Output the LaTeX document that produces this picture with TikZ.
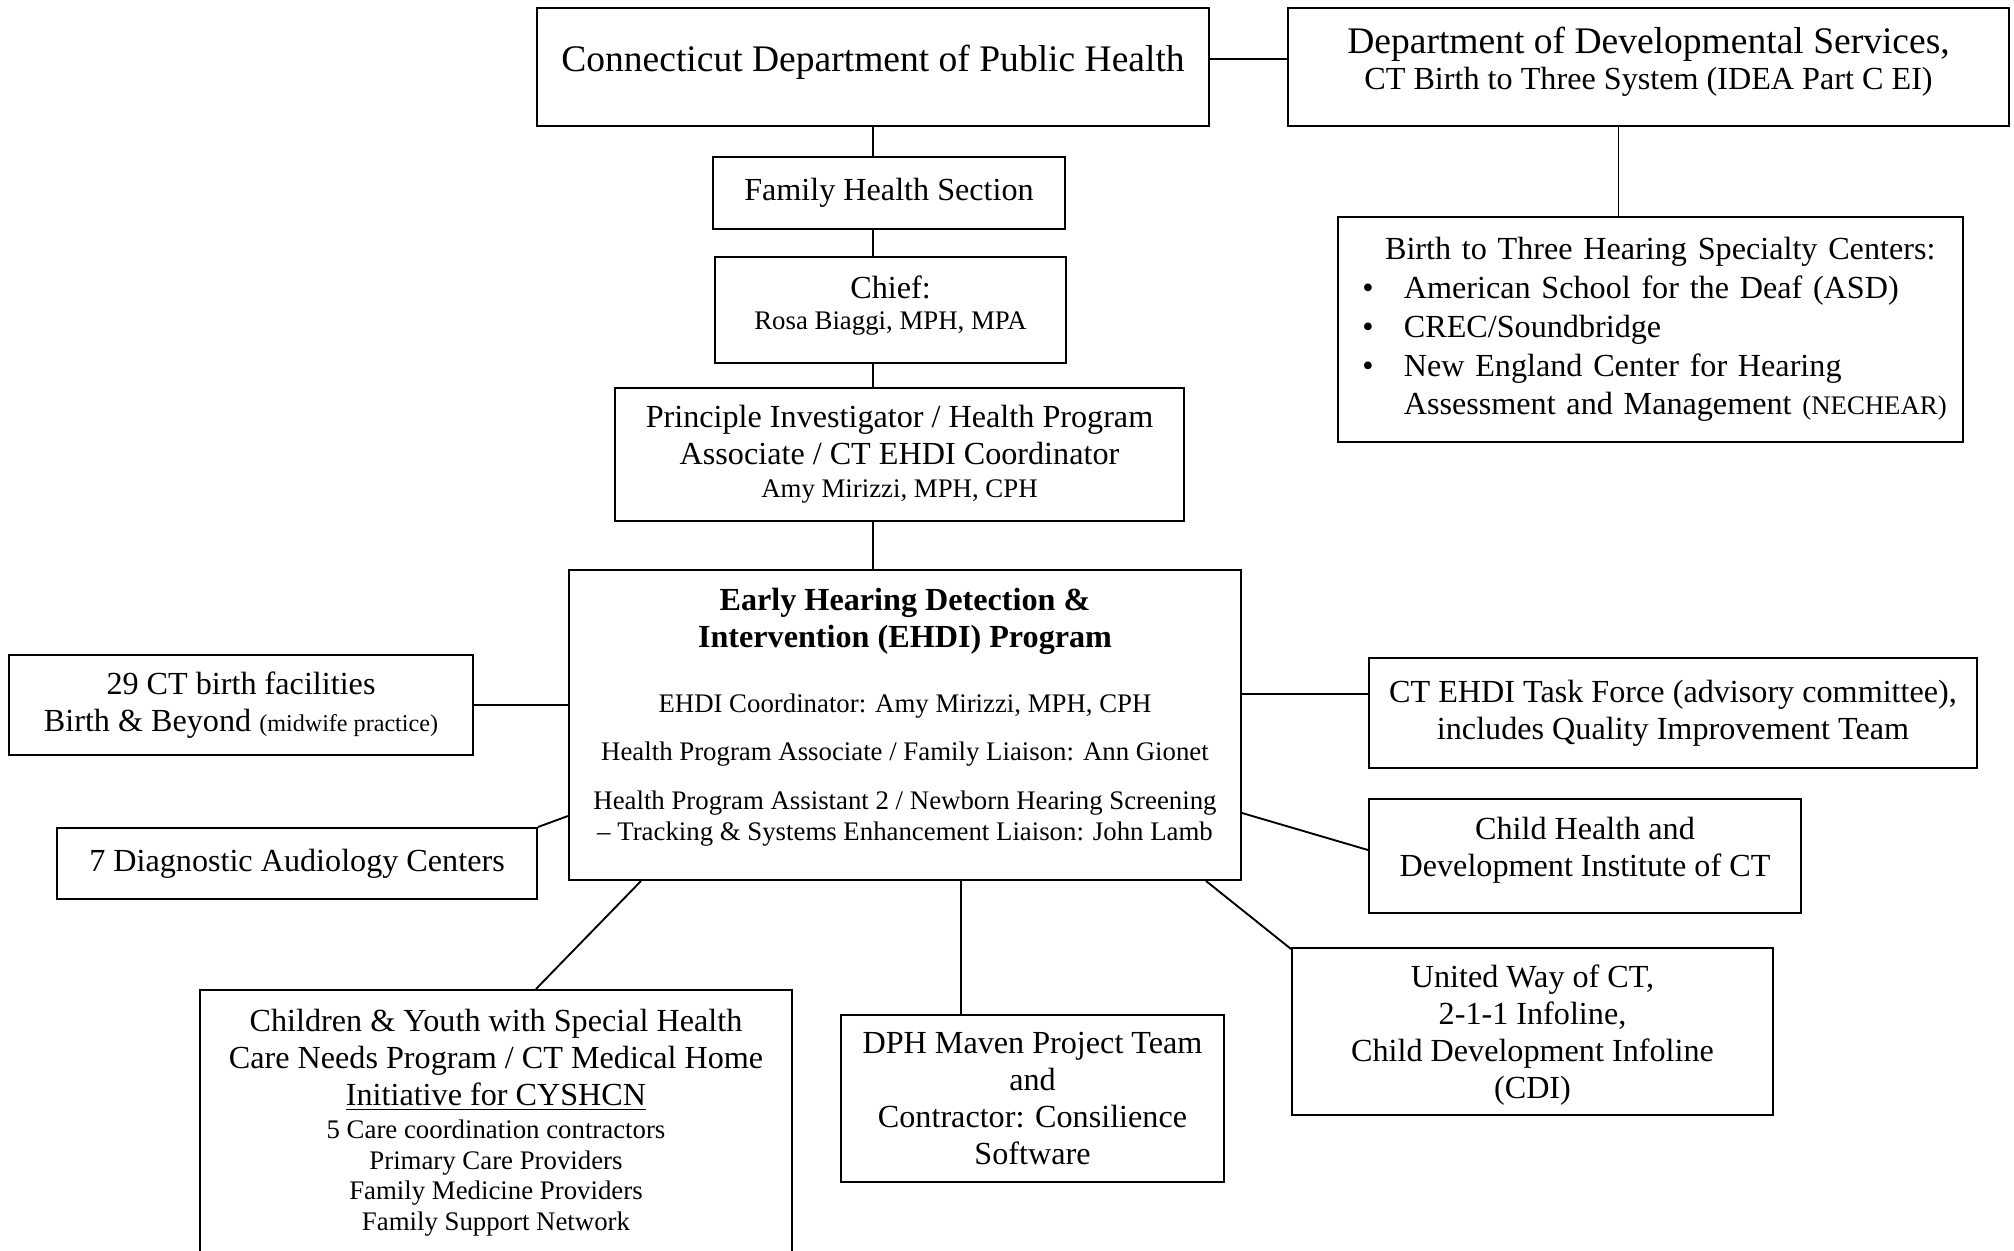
\documentclass[tikz,border=0pt]{standalone}
\usepackage{fontspec}
\setmainfont{Liberation Serif}
\usetikzlibrary{calc}
\newcommand{\sizeten}{\fontsize{10}{11.6}\selectfont}
\newcommand{\sizenine}{\fontsize{9}{10.5}\selectfont}
\newcommand{\sizefourteen}{\fontsize{14}{16.5}\selectfont}
% struts that move a box text up (depth) or down (height)
\newcommand{\pushup}[1]{\rule[-#1]{0pt}{0pt}}
\newcommand{\pushdown}[1]{\rule{0pt}{#1}}
\tikzset{
  box/.style={draw, line width=0.75pt, inner sep=0pt, align=center, font=\fontsize{12}{13.8}\selectfont},
  boxsize/.style 2 args={minimum width=#1*0.373pt, minimum height=#2*0.373pt},
  link/.style={line width=0.7pt},
}
\begin{document}
\begin{tikzpicture}[x=0.373pt, y=-0.373pt]
  \useasboundingbox (0,0) rectangle (2014,1251);
  \clip (0,0) rectangle (2014,1251);

  % Drawing department boxes
  \node[box, boxsize={672}{118}] (cdph) at (873,67) {\sizefourteen Connecticut Department of Public Health\pushup{6.5pt}};%
  \node[box, boxsize={721}{118}] (dds) at (1648.5,67) {{\sizefourteen Department of Developmental Services,}\\ CT Birth to Three System (IDEA Part C EI)\pushup{6.5pt}};%

  % Drawing chain of command
  \node[box, boxsize={352}{72}] (fhs) at (889,193) {Family Health Section};%
  \node[box, boxsize={351}{106}] (chief) at (890.5,310) {Chief:\\[-2.1pt] {\sizeten Rosa Biaggi, MPH, MPA}\pushup{5.6pt}};%
  \node[box, boxsize={569}{133}] (pi) at (899.5,454.5) {Principle Investigator / Health Program\\ Associate / CT EHDI Coordinator\\[-1.6pt] {\sizeten Amy Mirizzi, MPH, CPH}};%

  % Drawing specialty centers
  \node[box, align=left, text width=215pt, inner xsep=9pt, boxsize={625}{225}, font=\fontsize{12}{14.5}\selectfont] (b23) at (1650.5,329.5) {%
    \hspace*{8.5pt}Birth to Three Hearing Specialty Centers:\\
    \makebox[15.5pt][l]{\textbullet}American School for the Deaf (ASD)\\
    \makebox[15.5pt][l]{\textbullet}CREC/Soundbridge\\
    \makebox[15.5pt][l]{\textbullet}New England Center for Hearing\\
    \mbox{\hspace*{15.5pt}Assessment and Management {\sizeten(NECHEAR)}}};%

  % Drawing EHDI program
  \node[box, boxsize={672}{310}] (ehdi) at (905,725) {\textbf{Early Hearing Detection \&}\\ \textbf{Intervention (EHDI) Program}\\[10.5pt]
    {\sizeten EHDI Coordinator: Amy Mirizzi, MPH, CPH}\\[3.9pt]
    {\sizeten Health Program Associate / Family Liaison: Ann Gionet}\\[4.4pt]
    {\sizeten Health Program Assistant 2 / Newborn Hearing Screening}\\[-2.2pt]
    {\sizeten -- Tracking \& Systems Enhancement Liaison: John Lamb}\pushup{8pt}};%

  % Drawing partners on the left
  \node[box, boxsize={464}{100}] (birth) at (241,705) {29 CT birth facilities\\ Birth \& Beyond {\sizenine(midwife practice)}};%
  \node[box, boxsize={480}{71}] (diag) at (297,863.5) {7 Diagnostic Audiology Centers};%

  % Drawing partners on the right
  \node[box, boxsize={608}{110}] (task) at (1673,713) {CT EHDI Task Force (advisory committee),\\ includes Quality Improvement Team};%
  \node[box, boxsize={432}{114}] (child) at (1585,856) {Child Health and\\ Development Institute of CT\pushup{6.5pt}};%
  \node[box, boxsize={481}{167}] (uway) at (1532.5,1031.5) {\pushdown{11pt}United Way of CT,\\ 2-1-1 Infoline,\\ Child Development Infoline\\ (CDI)};%

  % Drawing partners below
  \node[box, boxsize={383}{167}] (maven) at (1032.5,1098.5) {DPH Maven Project Team\\ and\\ Contractor: Consilience\\ Software};%
  \node[box, boxsize={592}{290}] (cyshcn) at (496,1135) {};%
  \node[box, draw=none, anchor=north] (cyshcntext) at ($(cyshcn.north)+(0,19)$) {Children \& Youth with Special Health\\ Care Needs Program / CT Medical Home\\ \underline{Initiative for CYSHCN}\\[-1.3pt]
    {\sizeten 5 Care coordination contractors}\\[-2.4pt]
    {\sizeten Primary Care Providers}\\[-2.4pt]
    {\sizeten Family Medicine Providers}\\[-2.4pt]
    {\sizeten Family Support Network}};%

  % Drawing connectors
  \draw[link] ($(cdph.east)+(0,-8)$) -- ($(dds.west)+(0,-8)$);%
  \draw[link] (cdph.south) -- (cdph.south |- fhs.north);%
  \draw[link] (fhs.south -| cdph.south) -- (chief.north -| cdph.south);%
  \draw[link] (chief.south -| cdph.south) -- (pi.north -| cdph.south);%
  \draw[link] (pi.south -| cdph.south) -- (ehdi.north -| cdph.south);%
  \coordinate (ddsfoot) at ($(dds.south)+(-30,0)$);
  \draw[link] (ddsfoot) -- (ddsfoot |- b23.north);%
  \draw[link] (birth.east) -- (birth.east -| ehdi.west);%
  \draw[link] (diag.north east) -- ($(ehdi.west)+(0,91)$);%
  \coordinate (taskjoin) at ($(task.west)+(0,-19)$);
  \draw[link] (taskjoin -| ehdi.east) -- (taskjoin);%
  \draw[link] ($(ehdi.east)+(0,88)$) -- ($(child.west)+(0,-6)$);%
  \draw[link] ($(ehdi.south east)+(-36,0)$) -- ($(uway.north west)+(0,2)$);%
  \coordinate (mavenjoin) at ($(ehdi.south west)+(393,0)$);
  \draw[link] (mavenjoin) -- (mavenjoin |- maven.north);%
  \draw[link] ($(ehdi.south west)+(73,0)$) -- ($(cyshcn.north west)+(337,0)$);%
\end{tikzpicture}
\end{document}
